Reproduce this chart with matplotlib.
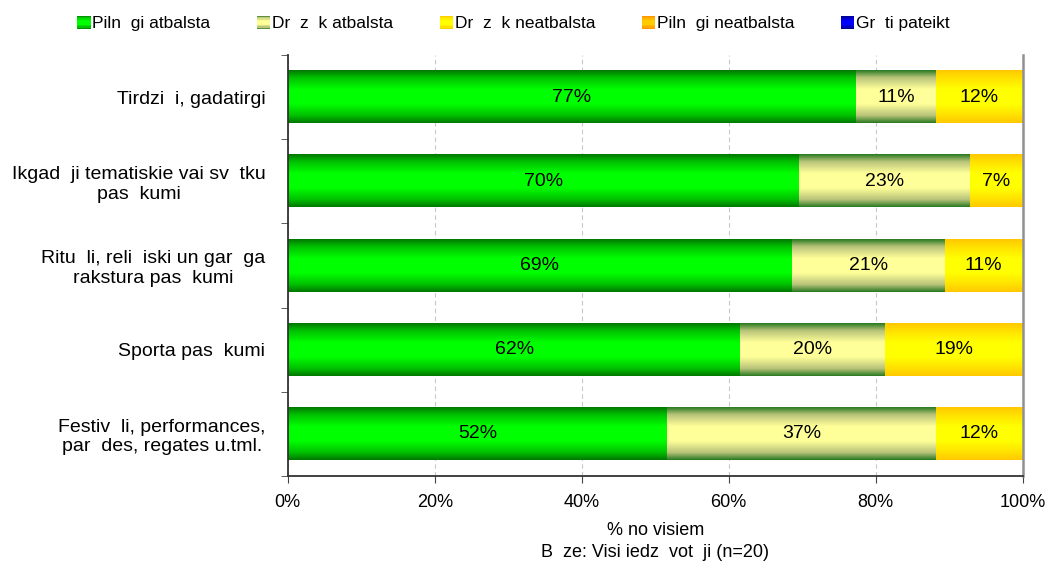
import numpy as np
import matplotlib
matplotlib.use("Agg")
import matplotlib.pyplot as plt
from matplotlib.colors import LinearSegmentedColormap
from matplotlib.legend_handler import HandlerBase
from matplotlib.patches import Rectangle

plt.rcParams["font.family"] = ["Liberation Sans", "DejaVu Sans"]

categories = [
    "Tirdzi  i, gadatirgi",
    "Ikgad  ji tematiskie vai sv  tku\npas  kumi",
    "Ritu  li, reli  iski un gar  ga\nrakstura pas  kumi",
    "Sporta pas  kumi",
    "Festiv  li, performances,\npar  des, regates u.tml.",
]
series_names = ["Piln  gi atbalsta", "Dr  z  k atbalsta", "Dr  z  k neatbalsta",
                "Piln  gi neatbalsta", "Gr  ti pateikt"]
full_support = [77.3, 69.6, 68.6, 61.6, 51.6]
rather_support = [10.9, 23.2, 20.8, 19.6, 36.6]
rather_not = [11.8, 7.2, 10.6, 18.8, 11.8]
full_not = [0, 0, 0, 0, 0]
hard_to_say = [0, 0, 0, 0, 0]
x_ticks = [0, 20, 40, 60, 80, 100]

# vertical gradients: edge -> mid -> centre plateau -> mid -> edge
grad_stops = [0.0, 0.14, 0.36, 0.64, 0.86, 1.0]
grads = [
    ("#007800", "#00c000", "#00ff00"),
    ("#2a7a22", "#b9c47a", "#ffff99"),
    ("#ffc800", "#ffe000", "#ffff00"),
    ("#ff8c00", "#ffa800", "#ffcc00"),
    ("#00007a", "#0000b8", "#0000ff"),
]
cmaps = []
for i, (e, m, c) in enumerate(grads):
    cmaps.append(LinearSegmentedColormap.from_list(
        f"g{i}", list(zip(grad_stops, [e, m, c, c, m, e]))))

fig = plt.figure(figsize=(10.5, 5.66), dpi=100)
ax = fig.add_axes([0.274, 0.159, 0.700, 0.744])

data = [full_support, rather_support, rather_not, full_not, hard_to_say]
y = np.arange(len(categories))
bar_h = 0.62
grad = np.linspace(0, 1, 128).reshape(-1, 1)

left = np.zeros(len(categories))
for vals, cm in zip(data, cmaps):
    vals = np.array(vals, dtype=float)
    bars = ax.barh(y, vals, height=bar_h, left=left, color="none", linewidth=0)
    for b, v in zip(bars, vals):
        if v <= 0:
            continue
        x0, y0 = b.get_x(), b.get_y()
        ax.imshow(grad, cmap=cm, aspect="auto", interpolation="bilinear",
                  extent=[x0, x0 + b.get_width(), y0 + b.get_height(), y0], zorder=2)
        ax.text(x0 + b.get_width() / 2, y0 + b.get_height() / 2, f"{round(v):.0f}%",
                ha="center", va="center", fontsize=14, color="black", zorder=3)
    left = left + vals

ax.set_xlim(0, 100)
ax.set_ylim(len(categories) - 0.5, -0.5)
ax.set_xticks(x_ticks)
ax.set_xticklabels([f"{t}%" for t in x_ticks], fontsize=13)
ax.set_yticks(y)
ax.set_yticklabels(categories, fontsize=14, ha="right", multialignment="center")
ax.set_yticks(np.arange(len(categories) + 1) - 0.5, minor=True)
ax.tick_params(axis="y", which="major", length=0, pad=16)
ax.tick_params(axis="y", which="minor", length=5, color="#444444")
ax.tick_params(axis="x", length=5, color="#444444", pad=8)
ax.grid(True, axis="x", linestyle=(0, (4, 3)), color="#c8c8c8", linewidth=0.8, zorder=0)
ax.set_axisbelow(True)
ax.spines["top"].set_visible(False)
ax.spines["right"].set_color("#909090")
ax.spines["right"].set_linewidth(1.8)
ax.spines["left"].set_color("#333333")
ax.spines["bottom"].set_color("#333333")
ax.spines["left"].set_linewidth(1.3)
ax.spines["bottom"].set_linewidth(1.3)
ax.set_xlabel("% no visiem\nB  ze: Visi iedz  vot  ji (n=20)", fontsize=13, labelpad=8, linespacing=1.35)


class GradHandler(HandlerBase):
    def __init__(self, cm):
        super().__init__()
        self.cm = cm

    def create_artists(self, legend, orig, xd, yd, w, h, fs, trans):
        n = 10
        s = h * 1.1
        x0 = xd + w - s
        arts = []
        for i in range(n):
            c = self.cm((i + 0.5) / n)
            arts.append(Rectangle((x0, yd - 0.05 * h + i * s / n), s, s / n, facecolor=c,
                                  edgecolor="none", transform=trans))
        return arts


handles = [Rectangle((0, 0), 1, 1) for _ in series_names]
fig.legend(handles, series_names, loc="upper center", bbox_to_anchor=(0.488, 0.999),
           ncol=5, frameon=False, fontsize=12.5, handlelength=0.9, handletextpad=0.1,
           columnspacing=2.55,
           handler_map={h: GradHandler(cm) for h, cm in zip(handles, cmaps)})

fig.savefig("out.png", dpi=100)
